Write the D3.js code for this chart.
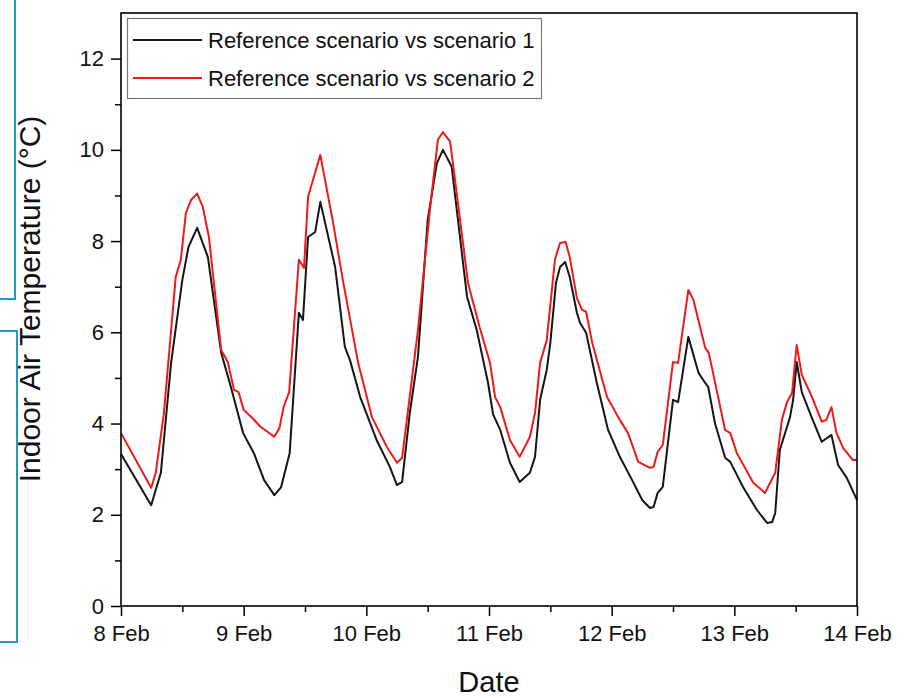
<!DOCTYPE html>
<html>
<head>
<meta charset="utf-8">
<script src="https://cdn.jsdelivr.net/npm/d3@7/dist/d3.min.js"></script>
<style>
  html, body { margin: 0; padding: 0; background: #fff; }
  svg { display: block; font-family: Arial, "Liberation Sans", sans-serif; }
</style>
</head>
<body>
<svg id="chart" width="910" height="698"></svg>
<script>
// ---- data (hours after 8 Feb 00:00, indoor air temperature in °C) ----
const dayLabels = ["8 Feb", "9 Feb", "10 Feb", "11 Feb", "12 Feb", "13 Feb", "14 Feb"];
const yTickValues = [0, 2, 4, 6, 8, 10, 12];
const seriesNames = ["Reference scenario vs scenario 1", "Reference scenario vs scenario 2"];

const timeS1 = [0, 5.9, 7.8, 9.8, 12, 13.2, 14.9, 17, 19.6, 21.5, 23.9, 26, 28, 30, 31.3, 33, 34.8, 35.6, 36.6, 38, 39,
  41.9, 43.8, 44.8, 46.8, 50, 52.6, 54, 55, 56.5, 58.1, 60, 61.8, 63, 64.7, 67.7, 69.6, 71.8, 72.8, 74.2, 76.1, 78,
  80, 81, 82, 83.3, 84, 85.1, 85.9, 86.9, 87.8, 89.2, 89.8, 91, 93.1, 95.3, 97.6, 100, 102, 103.5, 104.2, 105, 106,
  108, 109, 111, 113, 114.3, 114.9, 116.2, 118.2, 119.2, 121.7, 124.4, 126.4, 127.4, 128, 128.9, 130.9, 131.5, 132.2,
  133.2, 134.8, 137.1, 139, 140.3, 142, 144];
const tempS1 = [3.33, 2.21, 2.92, 5.33, 7.15, 7.87, 8.29, 7.65, 5.55, 4.8, 3.79, 3.35, 2.76, 2.43, 2.6, 3.35, 6.43, 6.27, 8.09, 8.2, 8.86,
  7.43, 5.68, 5.39, 4.58, 3.64, 3.05, 2.65, 2.72, 4.23, 5.46, 8.46, 9.71, 10.0, 9.63, 6.78, 6.05, 4.9, 4.2, 3.86, 3.14, 2.72,
  2.92, 3.27, 4.52, 5.18, 5.77, 7.08, 7.43, 7.54, 7.21, 6.43, 6.21, 5.99, 4.89, 3.86, 3.27, 2.76, 2.32, 2.15, 2.17, 2.48, 2.61,
  4.52, 4.47, 5.9, 5.11, 4.89, 4.8, 4.01, 3.25, 3.16, 2.61, 2.11, 1.82, 1.84, 2.04, 3.42, 4.14, 4.52, 5.35,
  4.69, 4.23, 3.6, 3.75, 3.09, 2.81, 2.32];

const timeS2 = [0, 5.9, 6.8, 8.4, 10.7, 11.7, 12.7, 13.7, 14.9, 16, 17.2, 19.6, 20.9, 22.1, 23, 24, 25.7, 27.3, 30, 31, 31.8,
  32.9, 34.8, 35.8, 36.6, 39, 41.5, 43.4, 46.4, 49.1, 52, 54, 55, 56.9, 58.1, 60.5, 62, 63, 64.4, 67.9, 70.2, 72.2,
  73.2, 74.2, 76.1, 78, 80, 81, 82, 83.3, 84.9, 85.9, 87, 87.8, 89.2, 90.2, 91, 92.2, 95.1, 97.6, 99.2, 101.2, 103.5,
  104.2, 105, 106, 108, 109, 111, 112, 114.3, 115, 118.2, 119.2, 120.5, 123.7, 126, 128, 129.3, 130.3, 131.3, 132.2,
  133.2, 135.2, 137.1, 138, 139, 140, 141.3, 143.2, 144];
const tempS2 = [3.79, 2.59, 2.92, 4.23, 7.21, 7.59, 8.62, 8.9, 9.04, 8.75, 8.09, 5.61, 5.35, 4.74, 4.69, 4.3, 4.12, 3.93, 3.71, 3.9, 4.36,
  4.69, 7.59, 7.41, 8.97, 9.89, 8.4, 7.15, 5.33, 4.14, 3.49, 3.14, 3.25, 4.96, 6.05, 8.75, 10.22, 10.39, 10.18, 7.08, 6.1, 5.33,
  4.58, 4.36, 3.64, 3.27, 3.71, 4.23, 5.33, 5.83, 7.59, 7.96, 7.98, 7.65, 6.75, 6.49, 6.45, 5.77, 4.58, 4.08, 3.79, 3.16, 3.03,
  3.05, 3.38, 3.53, 5.35, 5.33, 6.93, 6.71, 5.66, 5.55, 3.86, 3.79, 3.35, 2.7, 2.48, 2.92, 4.08, 4.47, 4.67, 5.72,
  5.07, 4.58, 4.04, 4.08, 4.36, 3.79, 3.46, 3.2, 3.2];

// ---- layout ----
const svg = d3.select("#chart");
const pLeft = 121, pRight = 857, pTop = 13, pBottom = 606;
const colors = ["#151515", "#ee1a1a"];

const x = d3.scaleLinear().domain([0, 144]).range([pLeft, pRight]);
const y = d3.scaleLinear().domain([0, 13]).range([pBottom, pTop]);

// decorative cyan page borders at left edge
svg.append("path").attr("d", "M15,0V299H0").attr("fill", "none").attr("stroke", "#1f9bc2").attr("stroke-width", 2);
svg.append("path").attr("d", "M0,331H17V642H0").attr("fill", "none").attr("stroke", "#1f9bc2").attr("stroke-width", 2);

// lines
const line = d3.line().x(d => x(d[0])).y(d => y(d[1]));
const s1 = timeS1.map((t, i) => [t, tempS1[i]]);
const s2 = timeS2.map((t, i) => [t, tempS2[i]]);
svg.append("path").datum(s1).attr("d", line).attr("fill", "none")
  .attr("stroke", colors[0]).attr("stroke-width", 2).attr("stroke-linejoin", "round");
svg.append("path").datum(s2).attr("d", line).attr("fill", "none")
  .attr("stroke", colors[1]).attr("stroke-width", 2).attr("stroke-linejoin", "round");

// x axis
const xMajor = dayLabels.map((d, i) => i * 24);
const xMinor = d3.range(12, 144, 24);
const xAxis = d3.axisBottom(x).tickValues(xMajor).tickFormat((d, i) => dayLabels[i]).tickSize(10).tickPadding(9);
const gx = svg.append("g").attr("transform", `translate(0,${pBottom})`).call(xAxis);
gx.select(".domain").remove();
gx.selectAll(".tick line").attr("stroke", "#000").attr("stroke-width", 1.5);
gx.selectAll(".tick text").attr("font-size", 22).attr("fill", "#111").attr("font-family", "Arial, 'Liberation Sans', sans-serif");
const gxm = svg.append("g").attr("transform", `translate(0,${pBottom})`)
  .call(d3.axisBottom(x).tickValues(xMinor).tickFormat("").tickSize(6));
gxm.select(".domain").remove();
gxm.selectAll(".tick line").attr("stroke", "#000").attr("stroke-width", 1.5);

// y axis
const yAxis = d3.axisLeft(y).tickValues(yTickValues).tickSize(10).tickPadding(7);
const gy = svg.append("g").attr("transform", `translate(${pLeft},0)`).call(yAxis);
gy.select(".domain").remove();
gy.selectAll(".tick line").attr("stroke", "#000").attr("stroke-width", 1.5);
gy.selectAll(".tick text").attr("font-size", 22).attr("fill", "#111").attr("font-family", "Arial, 'Liberation Sans', sans-serif");
const gym = svg.append("g").attr("transform", `translate(${pLeft},0)`)
  .call(d3.axisLeft(y).tickValues(d3.range(1, 13, 2)).tickFormat("").tickSize(6));
gym.select(".domain").remove();
gym.selectAll(".tick line").attr("stroke", "#000").attr("stroke-width", 1.5);

// frame
svg.append("rect").attr("x", pLeft).attr("y", pTop).attr("width", pRight - pLeft).attr("height", pBottom - pTop)
  .attr("fill", "none").attr("stroke", "#000").attr("stroke-width", 1.6);

// axis titles
svg.append("text").attr("x", (pLeft + pRight) / 2).attr("y", 692).attr("text-anchor", "middle")
  .attr("font-size", 29).attr("fill", "#111").text("Date");
svg.append("text").attr("transform", `translate(40,299) rotate(-90)`)
  .attr("text-anchor", "middle").attr("font-size", 30).attr("fill", "#111").text("Indoor Air Temperature (°C)");

// legend
const lg = svg.append("g");
lg.append("rect").attr("x", 127.5).attr("y", 18.5).attr("width", 414).attr("height", 80)
  .attr("fill", "#fff").attr("stroke", "#777").attr("stroke-width", 1.2);
seriesNames.forEach((name, i) => {
  const ly = 40 + i * 38;
  lg.append("line").attr("x1", 133).attr("x2", 202).attr("y1", ly).attr("y2", ly)
    .attr("stroke", colors[i]).attr("stroke-width", 1.8);
  lg.append("text").attr("x", 208).attr("y", ly + 8).attr("font-size", 22).attr("fill", "#111").text(name);
});
</script>
</body>
</html>
